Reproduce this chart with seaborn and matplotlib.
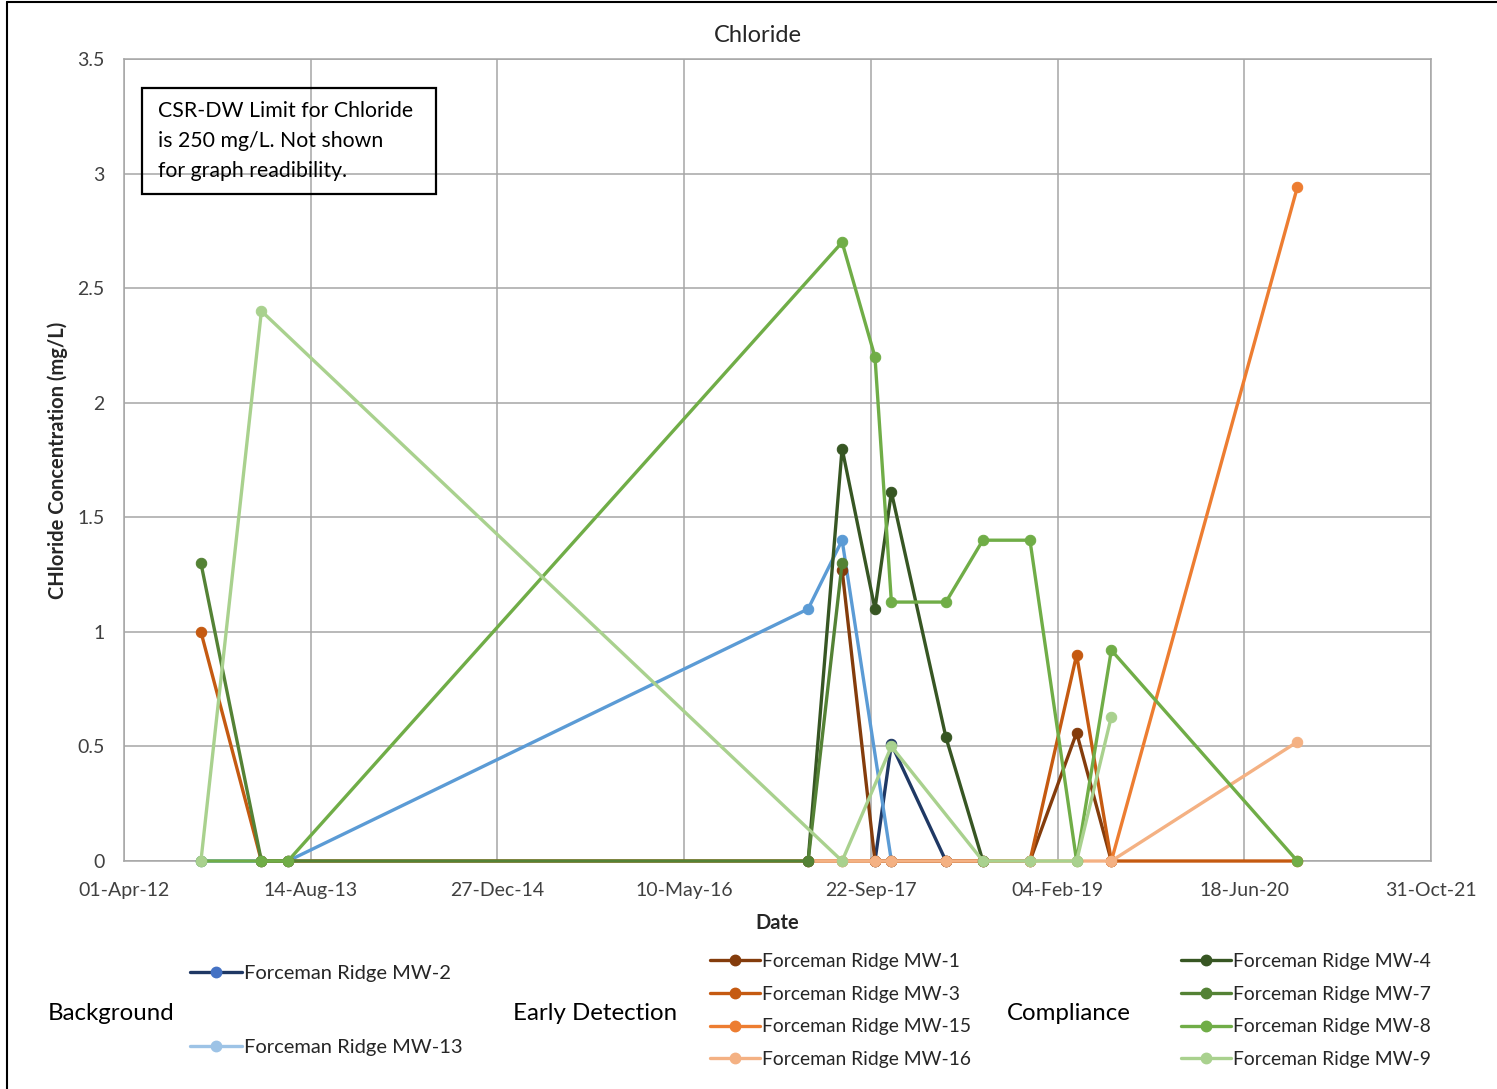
import numpy as np
import pandas as pd
import matplotlib
matplotlib.use("Agg")
import matplotlib.pyplot as plt
import matplotlib.dates as mdates
from matplotlib.lines import Line2D
from matplotlib.patches import Rectangle
import seaborn as sns

# Sampling dates (one column per sampling event)
sample_dates = pd.to_datetime([
    "2012-10-24", "2013-04-04", "2013-06-14", "2017-04-07", "2017-07-07",
    "2017-10-03", "2017-11-16", "2018-04-11", "2018-07-19", "2018-11-22",
    "2019-03-27", "2019-06-28", "2020-11-07",
])

nan = np.nan
# Chloride concentrations (mg/L) per well, NaN where not sampled
mw2 = [nan, nan, nan, nan, nan, 0, 0.51, 0, nan, nan, nan, nan, nan]
mw13 = [0, 0, 0, 1.1, 1.4, nan, 0, nan, nan, nan, nan, nan, nan]
mw1 = [nan, nan, nan, nan, 1.27, 0, 0, 0, 0, 0, 0.56, 0, nan]
mw3 = [1.0, 0, 0, 0, 0, 0, 0, 0, 0, 0, 0.9, 0, 0]
mw15 = [nan, nan, nan, nan, nan, nan, nan, nan, nan, nan, nan, 0, 2.94]
mw16 = [nan, nan, nan, 0, 0, 0, 0, 0, 0, 0, 0, 0, 0.52]
mw4 = [nan, nan, nan, 0, 1.8, 1.1, 1.61, 0.54, 0, nan, nan, nan, nan]
mw7 = [1.3, 0, 0, 0, 1.3, nan, nan, nan, nan, nan, nan, nan, nan]
mw8 = [0, 0, 0, nan, 2.7, 2.2, 1.13, 1.13, 1.4, 1.4, 0, 0.92, 0]
mw9 = [0, 2.4, nan, nan, 0, nan, 0.5, nan, 0, 0, 0, 0.63, nan]

# (label, values, line colour, legend line colour, legend marker colour)
groups = {
    "Background": [("Forceman Ridge MW-2", mw2, "#1F3864", "#1F3864", "#4472C4"),
                   ("Forceman Ridge MW-13", mw13, "#5B9BD5", "#9DC3E6", "#9DC3E6")],
    "Early Detection": [("Forceman Ridge MW-1", mw1, "#843C0C", "#843C0C", "#843C0C"),
                        ("Forceman Ridge MW-3", mw3, "#C55A11", "#C55A11", "#C55A11"),
                        ("Forceman Ridge MW-15", mw15, "#ED7D31", "#ED7D31", "#ED7D31"),
                        ("Forceman Ridge MW-16", mw16, "#F4B183", "#F4B183", "#F4B183")],
    "Compliance": [("Forceman Ridge MW-4", mw4, "#375623", "#375623", "#375623"),
                   ("Forceman Ridge MW-7", mw7, "#548235", "#548235", "#548235"),
                   ("Forceman Ridge MW-8", mw8, "#70AD47", "#70AD47", "#70AD47"),
                   ("Forceman Ridge MW-9", mw9, "#A9D18E", "#A9D18E", "#A9D18E")],
}

x_ticks = pd.to_datetime(["2012-04-01", "2013-08-14", "2014-12-27", "2016-05-10",
                          "2017-09-22", "2019-02-04", "2020-06-18", "2021-10-31"])
y_ticks = [0, 0.5, 1, 1.5, 2, 2.5, 3, 3.5]

sns.set_style("white")
plt.rcParams["font.family"] = ["Lato", "DejaVu Sans"]

W, H = 1497, 1089
fig = plt.figure(figsize=(W / 100, H / 100), dpi=100)
ax = fig.add_axes([124 / W, 1 - 861 / H, (1431 - 124) / W, (861 - 59) / H])

for group, wells in groups.items():
    for name, vals, col, _, _ in wells:
        df = pd.DataFrame({"date": sample_dates, "value": vals})
        sns.lineplot(data=df, x="date", y="value", ax=ax, color=col,
                     linewidth=2.4, marker="o", markersize=7.5,
                     markeredgecolor=col, markerfacecolor=col,
                     legend=False, zorder=3, clip_on=False)

grid_col = "#A6A6A6"
ax.set_xlim(x_ticks[0], x_ticks[-1])
ax.set_ylim(0, 3.5)
ax.set_xticks(x_ticks)
ax.xaxis.set_major_formatter(mdates.DateFormatter("%d-%b-%y"))
ax.set_yticks(y_ticks)
ax.set_yticklabels([f"{v:g}" for v in y_ticks])
ax.grid(True, color=grid_col, linewidth=1.1)
ax.set_axisbelow(True)
for s in ax.spines.values():
    s.set_color(grid_col)
    s.set_linewidth(1.1)
ax.tick_params(axis="x", length=5, color=grid_col, pad=10, labelsize=14, labelcolor="#404040")
ax.tick_params(axis="y", length=0, pad=14, labelsize=14, labelcolor="#404040")
ax.set_xlabel("")
ax.set_ylabel("")

fig.text(758 / W, 1 - 36 / H, "Chloride", ha="center", va="center", fontsize=17, color="#262626")
fig.text(777 / W, 1 - 923 / H, "Date", ha="center", va="center", fontsize=14.5, fontweight="bold", color="#262626")
fig.text(58 / W, 1 - 460 / H, "CHloride Concentration (mg/L)", ha="center", va="center",
         rotation=90, fontsize=14.5, fontweight="bold", color="#262626")

# Note box
fig.patches.append(Rectangle((142 / W, 1 - 194 / H), 294 / W, 106 / H, transform=fig.transFigure,
                             fill=False, edgecolor="black", linewidth=1.6))
fig.text(158 / W, 1 - 141 / H,
         "CSR-DW Limit for Chloride\nis 250 mg/L. Not shown\nfor graph readibility.",
         ha="left", va="center", fontsize=15.3, linespacing=1.63, color="black")

# Figure frame lines (top and left)
fig.add_artist(Line2D([7 / W, 1], [1 - 2 / H, 1 - 2 / H], transform=fig.transFigure, color="black", linewidth=1.5))
fig.add_artist(Line2D([7 / W, 7 / W], [0, 1 - 2 / H], transform=fig.transFigure, color="black", linewidth=1.5))

# Grouped legends
label_pos = {"Background": 48, "Early Detection": 513, "Compliance": 1007}
legend_x = {"Background": 190, "Early Detection": 710, "Compliance": 1181}
spacing = {"Background": 2.85, "Early Detection": 0.82, "Compliance": 0.82}
legend_fs = {"Background": 14.5, "Early Detection": 13.9, "Compliance": 13.9}
for group, wells in groups.items():
    fig.text(label_pos[group] / W, 1 - 1013 / H, group, ha="left", va="center", fontsize=17.3, color="black")
    handles = [Line2D([], [], color=lc, linewidth=2.4, marker="o", markersize=7.5,
                      markerfacecolor=mc, markeredgecolor=mc)
               for _, _, _, lc, mc in wells]
    leg = fig.legend(handles, [w[0] for w in wells], loc="center left",
                     bbox_to_anchor=(legend_x[group] / W, 1 - 1010.5 / H),
                     frameon=False, borderpad=0, borderaxespad=0, handlelength=2.6,
                     handletextpad=0.1, labelspacing=spacing[group], fontsize=legend_fs[group])
    for t in leg.get_texts():
        t.set_color("#262626")

fig.savefig("out.png", dpi=100, facecolor="white")
